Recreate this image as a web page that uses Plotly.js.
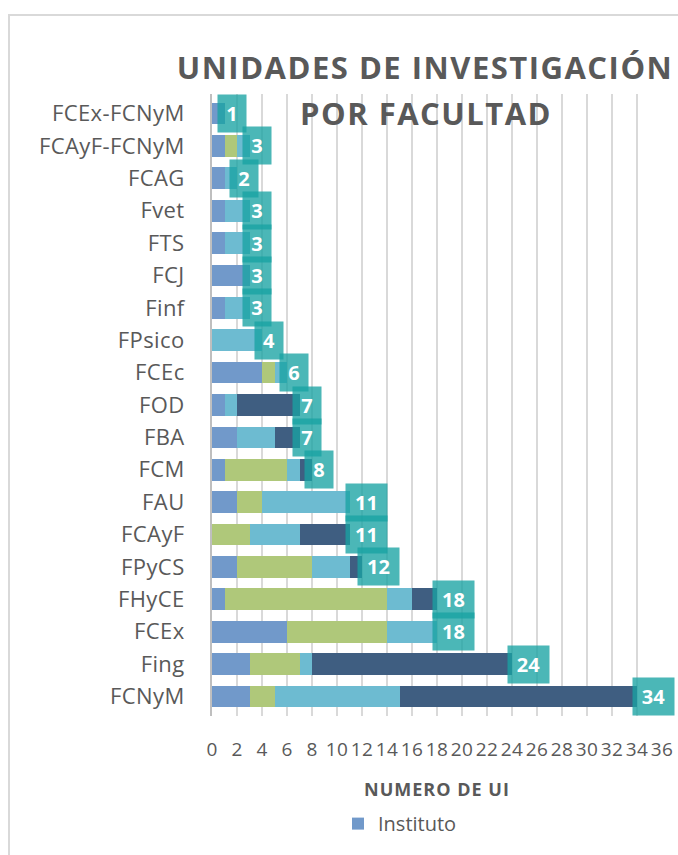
<!DOCTYPE html>
<html><head><meta charset="utf-8">
<script src="https://cdn.plot.ly/plotly-3.0.1.min.js"></script>
<style>
html,body{margin:0;padding:0;background:#fff;overflow:hidden}
#frame{position:absolute;left:8px;top:14px;width:720px;height:900px;border:2px solid #d9d9d9;box-sizing:border-box}
#chart{position:absolute;left:0;top:0;width:678px;height:855px}
#chart .gtitle, #chart .ttl{letter-spacing:1.5px}
#chart .ytick text{letter-spacing:0.4px}
#chart .xtick text{letter-spacing:0.4px}
#chart .xtitle{letter-spacing:1px}
</style></head><body>
<div id="frame"></div><div id="chart"></div>
<script>
// Categories, top to bottom
const facultades = ["FCEx-FCNyM","FCAyF-FCNyM","FCAG","Fvet","FTS","FCJ","Finf","FPsico","FCEc","FOD","FBA","FCM","FAU","FCAyF","FPyCS","FHyCE","FCEx","Fing","FCNyM"];
// Series values
const instituto   = [1,1,1,1,1,3,1,0,4,1,2,1,2,0,2,1,6,3,3];
const serie2      = [0,1,0,0,0,0,0,0,1,0,0,5,2,3,6,13,8,4,2];
const serie3      = [0,1,1,2,2,0,2,4,1,1,3,1,7,4,3,2,4,1,10];
const serie4      = [0,0,0,0,0,0,0,0,0,5,2,1,0,4,1,2,0,16,19];
const seriesNames = ["Instituto","Centro","Laboratorio","Unidad"];
const xTickVals   = [0,2,4,6,8,10,12,14,16,18,20,22,24,26,28,30,32,34,36];
const titleLine1  = "UNIDADES DE INVESTIGACIÓN";
const titleLine2  = "POR FACULTAD";
const xTitle      = "NUMERO DE UI";

const colors = ["#7199ca","#afc87a","#6dbbd1","#3f5e81"];
const allSeries = [instituto, serie2, serie3, serie4];
const traces = allSeries.map((vals, i) => ({
  type: "bar", orientation: "h",
  x: vals, y: facultades, name: seriesNames[i],
  marker: {color: colors[i]},
  showlegend: i === 0,
  hoverinfo: "none"
}));
const totals = facultades.map((_, k) => allSeries.reduce((s, a) => s + a[k], 0));

const annotations = facultades.map((f, k) => {
  const twoDigits = String(totals[k]).length > 1;
  return {
    x: totals[k], y: f, xref: "x", yref: "y",
    xanchor: "left", yanchor: "middle", xshift: twoDigits ? -5 : -8,
    text: "<b>" + totals[k] + "</b>", showarrow: false,
    width: twoDigits ? 39 : 26, height: 35,
    font: {family: "Open Sans", size: 20, color: "#ffffff"},
    bgcolor: "rgba(24,163,163,0.78)", borderpad: 1
  };
});
// second title line (plot area: x 212..662, y 94..716)
annotations.push({
  text: titleLine2, xref: "paper", yref: "paper",
  x: (426 - 212) / 450, y: (716 - 113) / 622, xanchor: "center", yanchor: "middle",
  showarrow: false, captureevents: false,
  font: {family: "Open Sans", size: 31, weight: 700, color: "#595959"}
});

const layout = {
  width: 678, height: 855,
  paper_bgcolor: "rgba(0,0,0,0)", plot_bgcolor: "rgba(0,0,0,0)",
  margin: {l: 212, r: 16, t: 94, b: 139},
  barmode: "stack", bargap: 0.33,
  title: {text: titleLine1, xref: "container", yref: "container",
          x: 425/678, y: 1 - 68/855, xanchor: "center", yanchor: "middle",
          font: {family: "Open Sans", size: 31, weight: 700, color: "#595959"}},
  xaxis: {range: [0, 36], tickvals: xTickVals, tickangle: 0,
          showgrid: true, gridcolor: "#d9d9d9", gridwidth: 2,
          zeroline: false, showline: false,
          ticklabelstandoff: 20,
          tickfont: {family: "Open Sans", size: 19, color: "#595959"},
          title: {text: xTitle, standoff: 22,
                  font: {family: "Open Sans", size: 18, weight: 700, color: "#595959"}}},
  yaxis: {autorange: "reversed", showline: true, linecolor: "#bfbfbf", linewidth: 2,
          showgrid: false, ticklabelstandoff: 21,
          tickfont: {family: "Open Sans", size: 22, color: "#595959"}},
  legend: {orientation: "h", x: 0.28, xanchor: "left", y: -0.173, yanchor: "middle",
           font: {family: "Open Sans", size: 20, color: "#595959"}},
  annotations: annotations
};
Plotly.newPlot("chart", traces, layout, {staticPlot: true}).then(() => {
  // tag the second title line so it gets the same letter spacing as the title
  document.querySelectorAll("#chart .annotation-text").forEach(t => {
    if (t.textContent === titleLine2) t.classList.add("ttl");
  });
});
</script></body></html>
